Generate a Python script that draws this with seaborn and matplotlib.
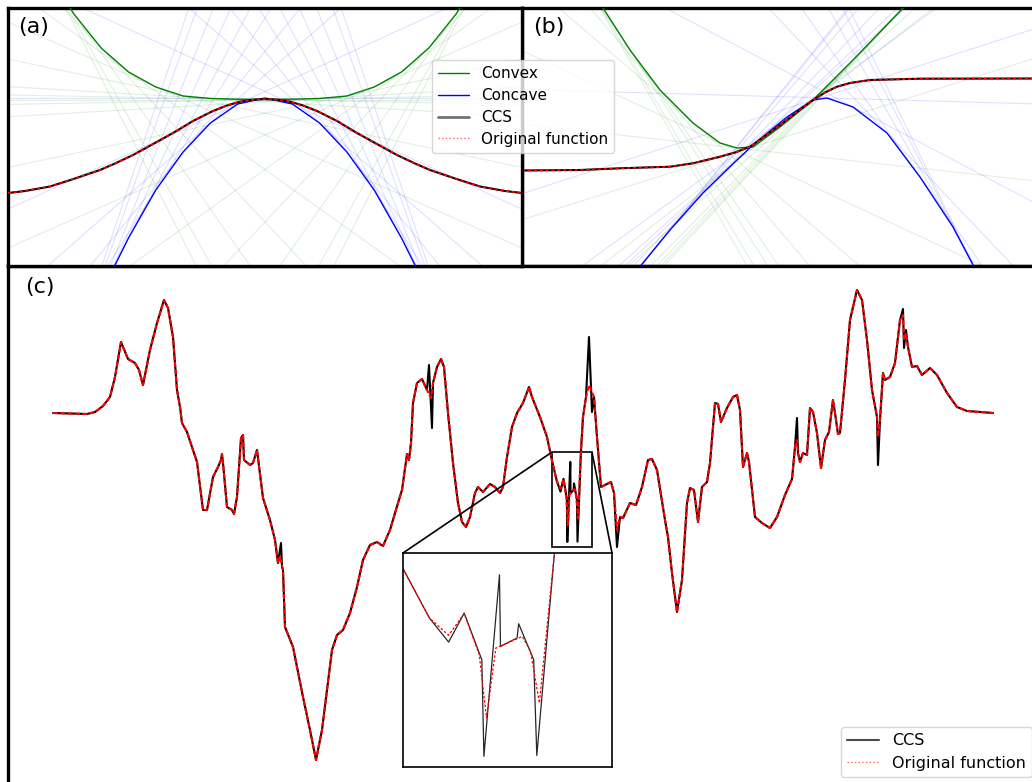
import numpy as np
import seaborn as sns
import matplotlib.pyplot as plt
from matplotlib.lines import Line2D
from mpl_toolkits.axes_grid1.inset_locator import mark_inset

sns.set_style("white")
plt.rcParams['font.family'] = ['DejaVu Sans']
plt.rcParams['text.color'] = 'black'

# ---- panel (a): bump function and its convex / concave parts ----
a_x = [-257, -240, -215, -190, -165, -150, -132, -110, -92, -72, -52, -38, -25, -12, 0,
       12, 25, 38, 52, 72, 92, 110, 132, 150, 165, 190, 215, 240, 257]
a_orig = [73, 75, 79.5, 87.5, 96, 102.5, 111, 123, 133, 145, 155, 160.5, 164.3, 166.3, 167,
          166.3, 164.3, 160.5, 155, 145, 133, 123, 111, 102.5, 96, 87.5, 79.5, 75, 73]
a_env_x = [-245.7, -218.4, -191.1, -163.8, -136.5, -109.2, -81.9, -54.6, -27.3, 0,
           27.3, 54.6, 81.9, 109.2, 136.5, 163.8, 191.1, 218.4, 245.7]
a_convex = [350, 296, 252, 218, 194, 179, 170, 167.5, 166.8, 166.5,
            166.8, 167.5, 170, 179, 194, 218, 252, 296, 350]
a_concave = [-245, -164, -92, -27, 28, 76, 114, 143, 162, 168,
             162, 143, 114, 76, 28, -27, -92, -164, -245]

# ---- panel (b): step function ----
b_x = [-258, -200, -160, -110, -87, -60, -45, -30, -15, 0, 17, 33, 45, 57, 70, 90, 140, 260]
b_orig = [95.5, 96, 97.7, 99.3, 102.7, 109.3, 113.5, 119.3, 130, 141, 154, 166, 173.5,
          179.3, 183, 186, 187.3, 187.5]
b_convex_x = [-230, -210, -177, -150, -120, -87, -60, -43, -27, 0, 33, 73, 123, 160, 200]
b_convex = [345, 310, 258, 216, 176, 143, 123, 118, 119, 139, 166, 206, 258, 297, 340]
b_concave_x = [-170, -137, -110, -77, -43, -27, 7, 33, 47, 73, 107, 140, 173, 192, 220]
b_concave = [-38, 3, 36, 73, 106, 121, 149, 166, 168, 159, 133, 89, 39, 3, -55]

# ---- panel (c): long signal ----
c_x = [0, 17, 34, 42, 50, 57, 62, 68, 75, 82, 86, 90, 97, 104, 111, 115, 120, 124, 127, 129,
       134, 139, 144, 150, 154, 160, 165, 168, 169, 170, 174, 179, 181, 184, 188, 190, 191,
       197, 200, 204, 210, 217, 222, 225, 227, 230, 232, 240, 250, 257, 263, 269, 274, 279,
       284, 290, 297, 304, 310, 317, 324, 330, 337, 345, 349, 354, 356, 358, 360, 364, 369,
       374, 378, 380, 384, 388, 391, 395, 400, 405, 409, 413, 417, 422, 425, 430, 437, 442,
       447, 450, 454, 459, 464, 470, 476, 479, 487, 494, 498.7, 503.8, 507.5, 510.5, 513.4,
       514.8, 516.6, 521.7, 523.3, 525, 527.9, 530, 533, 536, 541, 544, 548, 552, 558, 561,
       564, 567, 570, 577, 583, 589, 595, 599, 604, 612, 615, 619, 624, 629, 634, 637, 641,
       645, 649, 654, 657, 662, 665, 668, 674, 680, 684, 687, 690, 694, 696, 702, 709, 717,
       724, 732, 739, 742, 744, 745, 747, 750, 754, 757, 760, 764, 768, 772, 776, 780, 782,
       785, 787, 792, 797, 804, 809, 814, 819, 824, 825, 827, 830, 832, 837, 842, 847, 850,
       851, 853, 855, 859, 864, 869, 877, 884, 894, 904, 914, 927, 940]
c_orig = [0, -0.5, -1, 1, 7, 16, 36, 71, 54, 50, 43, 28, 63, 90, 113, 105, 76, 23, 6, -10,
          -19, -34, -49, -97, -97, -64, -54, -47, -41, -50, -94, -97, -101, -84, -25, -22, -47,
          -52, -50, -37, -85, -107, -127, -150, -143, -157, -214, -234, -284, -317, -347, -317,
          -277, -237, -222, -217, -200, -174, -147, -132, -129, -133, -117, -90, -77, -41, -47,
          -30, 10, 30, 34, 23, 15, 30, 46, 54, 46, 0, -50, -90, -109, -114, -104, -80, -74,
          -79, -71, -74, -80, -74, -44, -14, 0, 10, 26, 16, -4, -24, -46.2, -68, -75.6, -66,
          -84.1, -112.1, -81.2, -76.1, -82.7, -105.5, -39.3, -4, 16, 28, 16, -24, -74, -72,
          -69, -80, -117, -104, -105, -90, -92, -74, -47, -46, -57, -107, -124, -160, -199,
          -167, -90, -75, -77, -109, -74, -69, -50, 10, 9, -9, 5, 16, 18, 3, -54, -40, -49,
          -104, -110, -115, -104, -82, -66, -34, -27, -40, -49, -40, -42, 5, 1, -20, -55, -27,
          -19, 13, 0, -21, -20, 33, 93, 123, 113, 73, 23, -4, -24, -7, 40, 33, 36, 50, 93, 98,
          73, 80, 66, 46, 47, 38, 45, 38, 20, 6, 2, 1, 0]

# places where the CCS curve leaves the original function
spike_x = [[225, 228, 229, 230],
           [374, 376, 379, 380],
           [503.8, 507.5, 510.5, 513.9, 514.3, 517.3, 517.5, 520.7, 521, 523.9, 524.5, 527.9],
           [533, 536, 539, 541],
           [561, 564, 567],
           [742, 744, 745],
           [824, 825, 827],
           [847, 850, 851, 853, 855]]
spike_y = [[-150, -130, -154, -157],
           [23, 48, -15, 30],
           [-68, -78.6, -65.8, -86.4, -129, -48.9, -80.5, -76.8, -70.5, -86.4, -128.6, -39.3],
           [16, 76, 1, 16],
           [-80, -134, -104],
           [-34, -5, -40],
           [-4, -52, -7],
           [93, 104, 65, 83, 66]]

pts = list(zip(c_x, c_orig))
for sx, sy in zip(spike_x, spike_y):
    pts = [p for p in pts if p[0] < min(sx) or p[0] > max(sx)] + list(zip(sx, sy))
pts.sort()
ccs_x = [p[0] for p in pts]
ccs_y = [p[1] for p in pts]

W, H = 1032, 782


def box(x0, y0, x1, y1):
    return [x0 / W, 1 - y1 / H, (x1 - x0) / W, (y1 - y0) / H]


fig = plt.figure(figsize=(W / 100, H / 100), dpi=100)
ax_a = fig.add_axes(box(8, 8, 522, 266))
ax_b = fig.add_axes(box(522, 8, 1042, 266))
ax_c = fig.add_axes(box(8, 266, 1042, 792))
ax_a.set_zorder(3)


def tangents(ax, x, y, color):
    slopes = np.gradient(np.array(y, float), np.array(x, float))
    for x0, y0, s in zip(x, y, slopes):
        ax.axline((x0, y0), slope=s, color=color, alpha=0.12, lw=0.8, zorder=1)


for ax, vx, cv, cx, cc, ox, oy in [
        (ax_a, a_env_x, a_convex, a_env_x, a_concave, a_x, a_orig),
        (ax_b, b_convex_x, b_convex, b_concave_x, b_concave, b_x, b_orig)]:
    tangents(ax, vx, cv, 'green')
    tangents(ax, cx, cc, 'blue')
    sns.lineplot(x=vx, y=cv, ax=ax, color='green', lw=1, sort=False, estimator=None, zorder=3)
    sns.lineplot(x=cx, y=cc, ax=ax, color='blue', lw=1, sort=False, estimator=None, zorder=3)
    sns.lineplot(x=ox, y=oy, ax=ax, color='black', lw=1.5, sort=False, estimator=None, zorder=4)
    sns.lineplot(x=ox, y=oy, ax=ax, color='red', lw=1.2, ls=(0, (2, 1.5)), sort=False,
                 estimator=None, zorder=5)

ax_a.set_xlim(-257, 257)
ax_a.set_ylim(0, 258)
ax_b.set_xlim(-258, 262)
ax_b.set_ylim(0, 258)

sns.lineplot(x=ccs_x, y=ccs_y, ax=ax_c, color='black', lw=1.5, sort=False, estimator=None)
sns.lineplot(x=c_x, y=c_orig, ax=ax_c, color='red', lw=1.5, ls=(0, (2.5, 1)), sort=False,
             estimator=None)
ax_c.set_xlim(-45, 989)
ax_c.set_ylim(-379, 147)

ax_in = fig.add_axes(box(403, 553, 612, 767))
sns.lineplot(x=ccs_x, y=ccs_y, ax=ax_in, color='black', lw=0.9, alpha=0.85, sort=False,
             estimator=None)
sns.lineplot(x=c_x, y=c_orig, ax=ax_in, color='red', lw=0.9, ls=(0, (2, 1.5)), sort=False,
             estimator=None)
ax_in.set_xlim(498.7, 539)
ax_in.set_ylim(-133.7, -39.3)
mark_inset(ax_c, ax_in, loc1=2, loc2=1, fc='none', ec='black', lw=1.2)

for ax in [ax_a, ax_b, ax_c, ax_in]:
    ax.set_xticks([])
    ax.set_yticks([])
    ax.set_xlabel('')
    ax.set_ylabel('')
for ax in [ax_a, ax_b, ax_c]:
    for sp in ax.spines.values():
        sp.set_linewidth(2.4)
        sp.set_color('black')
for sp in ax_in.spines.values():
    sp.set_linewidth(1.2)
    sp.set_color('black')

ax_a.text(0.019, 0.965, '(a)', transform=ax_a.transAxes, fontsize=16, va='top')
ax_b.text(0.021, 0.965, '(b)', transform=ax_b.transAxes, fontsize=16, va='top')
ax_c.text(0.017, 0.98, '(c)', transform=ax_c.transAxes, fontsize=16, va='top')

h_top = [Line2D([], [], color='green', lw=1),
         Line2D([], [], color='blue', lw=1),
         Line2D([], [], color='black', lw=2, alpha=0.55),
         Line2D([], [], color='red', lw=1, ls=':', alpha=0.6)]
ax_a.legend(h_top, ['Convex', 'Concave', 'CCS', 'Original function'], loc='upper left',
            bbox_to_anchor=(432 / W, 1 - 60 / H), bbox_transform=fig.transFigure,
            fontsize=11, labelspacing=0.45, borderaxespad=0)

h_bot = [Line2D([], [], color='black', lw=1.5, alpha=0.7),
         Line2D([], [], color='red', lw=1, ls=':', alpha=0.6)]
ax_c.legend(h_bot, ['CCS', 'Original function'], loc='lower right',
            bbox_to_anchor=(1032 / W, 5 / H), bbox_transform=fig.transFigure,
            fontsize=11.5, labelspacing=0.45, borderaxespad=0)

fig.savefig('out.png', dpi=100)
